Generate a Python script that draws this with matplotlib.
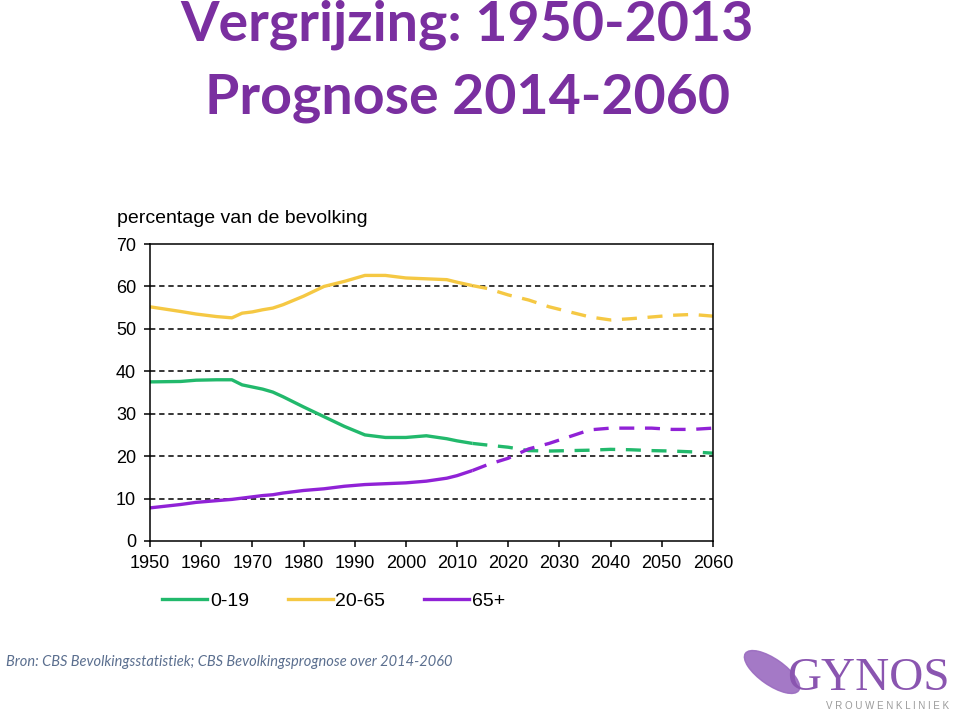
import matplotlib.pyplot as plt
from matplotlib.patches import Ellipse
from matplotlib.lines import Line2D

# observed values 1950-2013
jaren_obs = [1950, 1956, 1959, 1963, 1966, 1968, 1970, 1972, 1974, 1976, 1980, 1984, 1988,
             1992, 1996, 2000, 2004, 2008, 2010, 2013]
jong_obs = [37.5, 37.6, 37.9, 38.0, 38.0, 36.8, 36.3, 35.8, 35.1, 34.0, 31.6, 29.3, 27.0,
            25.0, 24.4, 24.4, 24.8, 24.1, 23.6, 23.0]
midden_obs = [55.2, 54.1, 53.5, 52.9, 52.6, 53.7, 54.0, 54.5, 54.9, 55.7, 57.7, 60.0, 61.2,
              62.6, 62.6, 62.0, 61.8, 61.6, 61.0, 60.2]
oud_obs = [7.8, 8.6, 9.1, 9.5, 9.8, 10.1, 10.4, 10.7, 10.9, 11.3, 11.9, 12.3, 12.9,
           13.3, 13.5, 13.7, 14.1, 14.8, 15.4, 16.6]

# prognose 2013-2060
jaren_prog = [2013, 2016, 2020, 2024, 2028, 2032, 2036, 2040, 2044, 2048, 2052, 2056, 2060]
jong_prog = [23.0, 22.6, 22.1, 21.3, 21.2, 21.3, 21.4, 21.6, 21.5, 21.3, 21.2, 21.0, 20.7]
midden_prog = [60.2, 59.5, 58.0, 56.8, 55.2, 54.0, 52.8, 52.1, 52.4, 52.8, 53.2, 53.4, 53.0]
oud_prog = [16.6, 18.0, 19.5, 21.7, 23.0, 24.6, 26.2, 26.6, 26.6, 26.6, 26.3, 26.3, 26.6]

labels = ['0-19', '20-65', '65+']
kleuren = ['#22b96c', '#f5c843', '#9022d6']

narrow = ['Liberation Sans Narrow', 'Liberation Sans', 'DejaVu Sans']

fig = plt.figure(figsize=(9.59, 7.15), dpi=100)
ax = fig.add_axes([0.1564, 0.2434, 0.587, 0.4153])

series_obs = [jong_obs, midden_obs, oud_obs]
series_prog = [jong_prog, midden_prog, oud_prog]
for obs, prog, kleur in zip(series_obs, series_prog, kleuren):
    ax.plot(jaren_obs, obs, color=kleur, lw=2.4, solid_capstyle='butt')
    ax.plot(jaren_prog, prog, color=kleur, lw=2.4, dashes=(4.5, 3.2))

ax.set_xlim(1950, 2060)
ax.set_ylim(0, 70)
ax.set_xticks(range(1950, 2061, 10))
ax.set_yticks(range(0, 71, 10))
for y in range(10, 70, 10):
    ax.axhline(y, color='black', lw=1.1, ls=(0, (3.5, 2.5)), zorder=0)
for s in ax.spines.values():
    s.set_linewidth(1.1)
ax.tick_params(length=4, width=1.1, labelsize=13, pad=6)
for lab in ax.get_xticklabels() + ax.get_yticklabels():
    lab.set_family(narrow)

fig.text(0.122, 0.695, 'percentage van de bevolking', fontsize=14, family=narrow,
         ha='left', va='center')

handles = [Line2D([0], [0], color=k, lw=2.4) for k in kleuren]
leg = fig.legend(handles, labels, loc='center', bbox_to_anchor=(0.348, 0.159), ncol=3,
                 frameon=False, handlelength=2.3, handletextpad=0.15, columnspacing=2.0,
                 prop={'family': narrow, 'size': 14})

# titel
paars = '#7a2fa0'
fig.text(0.487, 0.944, 'Vergrijzing: 1950-2013', fontsize=40, fontweight='bold',
         family=['Lato', 'DejaVu Sans'], color=paars, ha='center', va='baseline')
fig.text(0.487, 0.8406, 'Prognose 2014-2060', fontsize=40, fontweight='bold',
         family=['Lato', 'DejaVu Sans'], color=paars, ha='center', va='baseline')

fig.text(0.006, 0.074, 'Bron: CBS Bevolkingsstatistiek; CBS Bevolkingsprognose over 2014-2060',
         fontsize=10.5, style='italic', family=['Lato', 'DejaVu Sans'], color='#5b6f8f',
         ha='left', va='center')

# logo
fig.text(0.99, 0.05, 'GYNOS', fontsize=34, family=['Liberation Serif', 'DejaVu Serif'],
         color='#8a55b0', ha='right', va='center')
fig.text(0.99, 0.012, 'V R O U W E N K L I N I E K', fontsize=7, color='#9a9a9a',
         ha='right', va='center', family=['Liberation Sans', 'DejaVu Sans'])
blad = Ellipse((7.72, 0.43), 0.65, 0.26, angle=-35, transform=fig.dpi_scale_trans,
               color='#9a6bc0', alpha=0.9)
fig.patches.append(blad)

fig.savefig('out.png', dpi=100)
